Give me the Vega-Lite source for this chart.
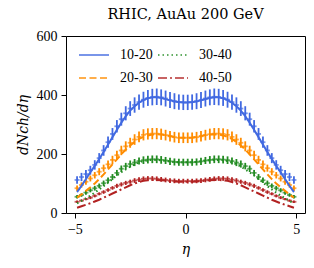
{
  "$schema": "https://vega.github.io/schema/vega-lite/v6.json",
  "width": 239,
  "height": 177,
  "autosize": {"type": "none"},
  "padding": {"left": 66, "top": 36, "right": 9, "bottom": 55},
  "title": {"text": "RHIC, AuAu 200 GeV", "font": "DejaVu Serif", "fontSize": 14.5, "fontWeight": "normal", "color": "black", "offset": 7, "anchor": "middle"},
  "config": {
    "view": {"stroke": "black", "strokeWidth": 1},
    "axis": {"grid": false, "domain": false, "tickColor": "black", "tickSize": 5, "labelColor": "black", "labelFont": "Liberation Serif", "labelFontSize": 14, "labelPadding": 4, "titleColor": "black", "titleFontWeight": "normal"}
  },
  "data": {"values": [
    {"eta":-4.9,"c":"10-20","y":112,"e":13,"m":71},{"eta":-4.7,"c":"10-20","y":122,"e":14,"m":92},{"eta":-4.5,"c":"10-20","y":132,"e":14,"m":115},{"eta":-4.3,"c":"10-20","y":145,"e":15,"m":138},{"eta":-4.1,"c":"10-20","y":163,"e":16,"m":160},{"eta":-3.9,"c":"10-20","y":186,"e":17,"m":183},{"eta":-3.7,"c":"10-20","y":212,"e":18,"m":207},{"eta":-3.5,"c":"10-20","y":240,"e":19,"m":232},{"eta":-3.3,"c":"10-20","y":268,"e":20,"m":257},{"eta":-3.1,"c":"10-20","y":294,"e":21,"m":282},{"eta":-2.9,"c":"10-20","y":318,"e":22,"m":306},{"eta":-2.7,"c":"10-20","y":338,"e":24,"m":328},{"eta":-2.5,"c":"10-20","y":354,"e":25,"m":347},{"eta":-2.3,"c":"10-20","y":366,"e":26,"m":362},{"eta":-2.1,"c":"10-20","y":376,"e":26,"m":374},{"eta":-1.9,"c":"10-20","y":384,"e":27,"m":383},{"eta":-1.7,"c":"10-20","y":390,"e":27,"m":389},{"eta":-1.5,"c":"10-20","y":393,"e":28,"m":392},{"eta":-1.3,"c":"10-20","y":394,"e":28,"m":392},{"eta":-1.1,"c":"10-20","y":392,"e":27,"m":390},{"eta":-0.9,"c":"10-20","y":388,"e":27,"m":386},{"eta":-0.7,"c":"10-20","y":383,"e":27,"m":382},{"eta":-0.5,"c":"10-20","y":379,"e":27,"m":378},{"eta":-0.3,"c":"10-20","y":376,"e":26,"m":376},{"eta":-0.1,"c":"10-20","y":375,"e":26,"m":375},
    {"eta":0.1,"c":"10-20","y":375,"e":26,"m":375},{"eta":0.3,"c":"10-20","y":376,"e":26,"m":376},{"eta":0.5,"c":"10-20","y":379,"e":27,"m":378},{"eta":0.7,"c":"10-20","y":383,"e":27,"m":382},{"eta":0.9,"c":"10-20","y":388,"e":27,"m":386},{"eta":1.1,"c":"10-20","y":392,"e":27,"m":390},{"eta":1.3,"c":"10-20","y":394,"e":28,"m":392},{"eta":1.5,"c":"10-20","y":393,"e":28,"m":392},{"eta":1.7,"c":"10-20","y":390,"e":27,"m":389},{"eta":1.9,"c":"10-20","y":384,"e":27,"m":383},{"eta":2.1,"c":"10-20","y":376,"e":26,"m":374},{"eta":2.3,"c":"10-20","y":366,"e":26,"m":362},{"eta":2.5,"c":"10-20","y":354,"e":25,"m":347},{"eta":2.7,"c":"10-20","y":338,"e":24,"m":328},{"eta":2.9,"c":"10-20","y":318,"e":22,"m":306},{"eta":3.1,"c":"10-20","y":294,"e":21,"m":282},{"eta":3.3,"c":"10-20","y":268,"e":20,"m":257},{"eta":3.5,"c":"10-20","y":240,"e":19,"m":232},{"eta":3.7,"c":"10-20","y":212,"e":18,"m":207},{"eta":3.9,"c":"10-20","y":186,"e":17,"m":183},{"eta":4.1,"c":"10-20","y":163,"e":16,"m":160},{"eta":4.3,"c":"10-20","y":145,"e":15,"m":138},{"eta":4.5,"c":"10-20","y":132,"e":14,"m":115},{"eta":4.7,"c":"10-20","y":122,"e":14,"m":92},{"eta":4.9,"c":"10-20","y":112,"e":13,"m":71},
    {"eta":-4.9,"c":"20-30","y":84,"e":9,"m":52},{"eta":-4.7,"c":"20-30","y":95,"e":9,"m":63},{"eta":-4.5,"c":"20-30","y":106,"e":10,"m":75},{"eta":-4.3,"c":"20-30","y":117,"e":10,"m":87},{"eta":-4.1,"c":"20-30","y":128,"e":11,"m":100},{"eta":-3.9,"c":"20-30","y":140,"e":12,"m":115},{"eta":-3.7,"c":"20-30","y":152,"e":12,"m":131},{"eta":-3.5,"c":"20-30","y":165,"e":13,"m":148},{"eta":-3.3,"c":"20-30","y":180,"e":14,"m":165},{"eta":-3.1,"c":"20-30","y":196,"e":15,"m":182},{"eta":-2.9,"c":"20-30","y":212,"e":16,"m":199},{"eta":-2.7,"c":"20-30","y":226,"e":17,"m":215},{"eta":-2.5,"c":"20-30","y":238,"e":17,"m":229},{"eta":-2.3,"c":"20-30","y":249,"e":18,"m":241},{"eta":-2.1,"c":"20-30","y":258,"e":18,"m":251},{"eta":-1.9,"c":"20-30","y":265,"e":19,"m":258},{"eta":-1.7,"c":"20-30","y":268,"e":19,"m":263},{"eta":-1.5,"c":"20-30","y":269,"e":19,"m":266},{"eta":-1.3,"c":"20-30","y":269,"e":19,"m":267},{"eta":-1.1,"c":"20-30","y":267,"e":19,"m":266},{"eta":-0.9,"c":"20-30","y":264,"e":18,"m":264},{"eta":-0.7,"c":"20-30","y":260,"e":18,"m":261},{"eta":-0.5,"c":"20-30","y":257,"e":18,"m":258},{"eta":-0.3,"c":"20-30","y":255,"e":18,"m":256},{"eta":-0.1,"c":"20-30","y":255,"e":18,"m":255},
    {"eta":0.1,"c":"20-30","y":255,"e":18,"m":255},{"eta":0.3,"c":"20-30","y":255,"e":18,"m":256},{"eta":0.5,"c":"20-30","y":257,"e":18,"m":258},{"eta":0.7,"c":"20-30","y":260,"e":18,"m":261},{"eta":0.9,"c":"20-30","y":264,"e":18,"m":264},{"eta":1.1,"c":"20-30","y":267,"e":19,"m":266},{"eta":1.3,"c":"20-30","y":269,"e":19,"m":267},{"eta":1.5,"c":"20-30","y":269,"e":19,"m":266},{"eta":1.7,"c":"20-30","y":268,"e":19,"m":263},{"eta":1.9,"c":"20-30","y":265,"e":19,"m":258},{"eta":2.1,"c":"20-30","y":258,"e":18,"m":251},{"eta":2.3,"c":"20-30","y":249,"e":18,"m":241},{"eta":2.5,"c":"20-30","y":238,"e":17,"m":229},{"eta":2.7,"c":"20-30","y":226,"e":17,"m":215},{"eta":2.9,"c":"20-30","y":212,"e":16,"m":199},{"eta":3.1,"c":"20-30","y":196,"e":15,"m":182},{"eta":3.3,"c":"20-30","y":180,"e":14,"m":165},{"eta":3.5,"c":"20-30","y":165,"e":13,"m":148},{"eta":3.7,"c":"20-30","y":152,"e":12,"m":131},{"eta":3.9,"c":"20-30","y":140,"e":12,"m":115},{"eta":4.1,"c":"20-30","y":128,"e":11,"m":100},{"eta":4.3,"c":"20-30","y":117,"e":10,"m":87},{"eta":4.5,"c":"20-30","y":106,"e":10,"m":75},{"eta":4.7,"c":"20-30","y":95,"e":9,"m":63},{"eta":4.9,"c":"20-30","y":84,"e":9,"m":52},
    {"eta":-4.9,"c":"30-40","y":55,"e":6,"m":33},{"eta":-4.7,"c":"30-40","y":61,"e":6,"m":41},{"eta":-4.5,"c":"30-40","y":69,"e":7,"m":50},{"eta":-4.3,"c":"30-40","y":77,"e":7,"m":59},{"eta":-4.1,"c":"30-40","y":84,"e":8,"m":69},{"eta":-3.9,"c":"30-40","y":92,"e":8,"m":80},{"eta":-3.7,"c":"30-40","y":101,"e":9,"m":91},{"eta":-3.5,"c":"30-40","y":111,"e":9,"m":103},{"eta":-3.3,"c":"30-40","y":122,"e":10,"m":115},{"eta":-3.1,"c":"30-40","y":136,"e":10,"m":127},{"eta":-2.9,"c":"30-40","y":150,"e":11,"m":138},{"eta":-2.7,"c":"30-40","y":159,"e":11,"m":148},{"eta":-2.5,"c":"30-40","y":166,"e":12,"m":157},{"eta":-2.3,"c":"30-40","y":171,"e":12,"m":165},{"eta":-2.1,"c":"30-40","y":176,"e":12,"m":171},{"eta":-1.9,"c":"30-40","y":179,"e":13,"m":176},{"eta":-1.7,"c":"30-40","y":181,"e":13,"m":179},{"eta":-1.5,"c":"30-40","y":182,"e":13,"m":180},{"eta":-1.3,"c":"30-40","y":182,"e":13,"m":180},{"eta":-1.1,"c":"30-40","y":180,"e":13,"m":179},{"eta":-0.9,"c":"30-40","y":178,"e":12,"m":177},{"eta":-0.7,"c":"30-40","y":175,"e":12,"m":175},{"eta":-0.5,"c":"30-40","y":173,"e":12,"m":173},{"eta":-0.3,"c":"30-40","y":172,"e":12,"m":172},{"eta":-0.1,"c":"30-40","y":172,"e":12,"m":172},
    {"eta":0.1,"c":"30-40","y":172,"e":12,"m":172},{"eta":0.3,"c":"30-40","y":172,"e":12,"m":172},{"eta":0.5,"c":"30-40","y":173,"e":12,"m":173},{"eta":0.7,"c":"30-40","y":175,"e":12,"m":175},{"eta":0.9,"c":"30-40","y":178,"e":12,"m":177},{"eta":1.1,"c":"30-40","y":180,"e":13,"m":179},{"eta":1.3,"c":"30-40","y":182,"e":13,"m":180},{"eta":1.5,"c":"30-40","y":182,"e":13,"m":180},{"eta":1.7,"c":"30-40","y":181,"e":13,"m":179},{"eta":1.9,"c":"30-40","y":179,"e":13,"m":176},{"eta":2.1,"c":"30-40","y":176,"e":12,"m":171},{"eta":2.3,"c":"30-40","y":171,"e":12,"m":165},{"eta":2.5,"c":"30-40","y":166,"e":12,"m":157},{"eta":2.7,"c":"30-40","y":159,"e":11,"m":148},{"eta":2.9,"c":"30-40","y":150,"e":11,"m":138},{"eta":3.1,"c":"30-40","y":136,"e":10,"m":127},{"eta":3.3,"c":"30-40","y":122,"e":10,"m":115},{"eta":3.5,"c":"30-40","y":111,"e":9,"m":103},{"eta":3.7,"c":"30-40","y":101,"e":9,"m":91},{"eta":3.9,"c":"30-40","y":92,"e":8,"m":80},{"eta":4.1,"c":"30-40","y":84,"e":8,"m":69},{"eta":4.3,"c":"30-40","y":77,"e":7,"m":59},{"eta":4.5,"c":"30-40","y":69,"e":7,"m":50},{"eta":4.7,"c":"30-40","y":61,"e":6,"m":41},{"eta":4.9,"c":"30-40","y":55,"e":6,"m":33},
    {"eta":-4.9,"c":"40-50","y":38,"e":4,"m":18},{"eta":-4.7,"c":"40-50","y":42,"e":4,"m":23},{"eta":-4.5,"c":"40-50","y":47,"e":4,"m":28},{"eta":-4.3,"c":"40-50","y":52,"e":5,"m":33},{"eta":-4.1,"c":"40-50","y":58,"e":5,"m":39},{"eta":-3.9,"c":"40-50","y":65,"e":5,"m":45},{"eta":-3.7,"c":"40-50","y":71,"e":6,"m":52},{"eta":-3.5,"c":"40-50","y":78,"e":6,"m":59},{"eta":-3.3,"c":"40-50","y":85,"e":6,"m":66},{"eta":-3.1,"c":"40-50","y":92,"e":7,"m":73},{"eta":-2.9,"c":"40-50","y":97,"e":7,"m":80},{"eta":-2.7,"c":"40-50","y":102,"e":7,"m":87},{"eta":-2.5,"c":"40-50","y":106,"e":7,"m":94},{"eta":-2.3,"c":"40-50","y":110,"e":8,"m":100},{"eta":-2.1,"c":"40-50","y":113,"e":8,"m":105},{"eta":-1.9,"c":"40-50","y":116,"e":8,"m":109},{"eta":-1.7,"c":"40-50","y":117,"e":8,"m":111},{"eta":-1.5,"c":"40-50","y":117,"e":8,"m":112},{"eta":-1.3,"c":"40-50","y":116,"e":8,"m":112},{"eta":-1.1,"c":"40-50","y":114,"e":8,"m":111},{"eta":-0.9,"c":"40-50","y":112,"e":8,"m":110},{"eta":-0.7,"c":"40-50","y":110,"e":8,"m":108},{"eta":-0.5,"c":"40-50","y":109,"e":8,"m":107},{"eta":-0.3,"c":"40-50","y":108,"e":8,"m":106},{"eta":-0.1,"c":"40-50","y":108,"e":8,"m":106},
    {"eta":0.1,"c":"40-50","y":108,"e":8,"m":106},{"eta":0.3,"c":"40-50","y":108,"e":8,"m":106},{"eta":0.5,"c":"40-50","y":109,"e":8,"m":107},{"eta":0.7,"c":"40-50","y":110,"e":8,"m":108},{"eta":0.9,"c":"40-50","y":112,"e":8,"m":110},{"eta":1.1,"c":"40-50","y":114,"e":8,"m":111},{"eta":1.3,"c":"40-50","y":116,"e":8,"m":112},{"eta":1.5,"c":"40-50","y":117,"e":8,"m":112},{"eta":1.7,"c":"40-50","y":117,"e":8,"m":111},{"eta":1.9,"c":"40-50","y":116,"e":8,"m":109},{"eta":2.1,"c":"40-50","y":113,"e":8,"m":105},{"eta":2.3,"c":"40-50","y":110,"e":8,"m":100},{"eta":2.5,"c":"40-50","y":106,"e":7,"m":94},{"eta":2.7,"c":"40-50","y":102,"e":7,"m":87},{"eta":2.9,"c":"40-50","y":97,"e":7,"m":80},{"eta":3.1,"c":"40-50","y":92,"e":7,"m":73},{"eta":3.3,"c":"40-50","y":85,"e":6,"m":66},{"eta":3.5,"c":"40-50","y":78,"e":6,"m":59},{"eta":3.7,"c":"40-50","y":71,"e":6,"m":52},{"eta":3.9,"c":"40-50","y":65,"e":5,"m":45},{"eta":4.1,"c":"40-50","y":58,"e":5,"m":39},{"eta":4.3,"c":"40-50","y":52,"e":5,"m":33},{"eta":4.5,"c":"40-50","y":47,"e":4,"m":28},{"eta":4.7,"c":"40-50","y":42,"e":4,"m":23},{"eta":4.9,"c":"40-50","y":38,"e":4,"m":18}
  ]},
  "encoding": {
    "x": {"field": "eta", "type": "quantitative", "scale": {"domain": [-5.4, 5.4], "nice": false, "zero": false}, "axis": {"values": [-5, 0, 5], "title": "η", "titleFont": "DejaVu Serif", "titleFontStyle": "italic", "titleFontSize": 14, "titlePadding": 6}},
    "color": {"field": "c", "type": "nominal", "scale": {"domain": ["10-20", "20-30", "30-40", "40-50"], "range": ["#4169e1", "#ff8c00", "#228b22", "#b22222"]}, "legend": {"orient": "none", "legendX": 12, "legendY": 3, "columns": 2, "title": null, "symbolType": "stroke", "symbolSize": 900, "symbolStrokeWidth": 2, "labelFont": "Liberation Serif", "labelFontSize": 14, "labelColor": "black", "labelOffset": 10, "columnPadding": 1, "rowPadding": -10.5, "padding": 0}}
  },
  "layer": [
    {"mark": {"type": "errorbar", "thickness": 1.8}, "encoding": {"y": {"field": "y", "type": "quantitative", "scale": {"domain": [0, 600], "nice": false}, "axis": {"values": [0, 200, 400, 600], "title": "dNch/dη", "titleFont": "DejaVu Serif", "titleFontStyle": "italic", "titleFontSize": 14, "titlePadding": 6}}, "yError": {"field": "e"}}},
    {"mark": {"type": "tick", "orient": "horizontal", "size": 5, "thickness": 1.8}, "encoding": {"y": {"field": "y", "type": "quantitative"}}},
    {"mark": {"type": "line", "strokeWidth": 2}, "encoding": {"y": {"field": "m", "type": "quantitative"}, "strokeDash": {"field": "c", "type": "nominal", "scale": {"domain": ["10-20", "20-30", "30-40", "40-50"], "range": [[1, 0], [7, 3.5], [1.5, 3], [9, 3, 2, 3]]}}}}
  ]
}
